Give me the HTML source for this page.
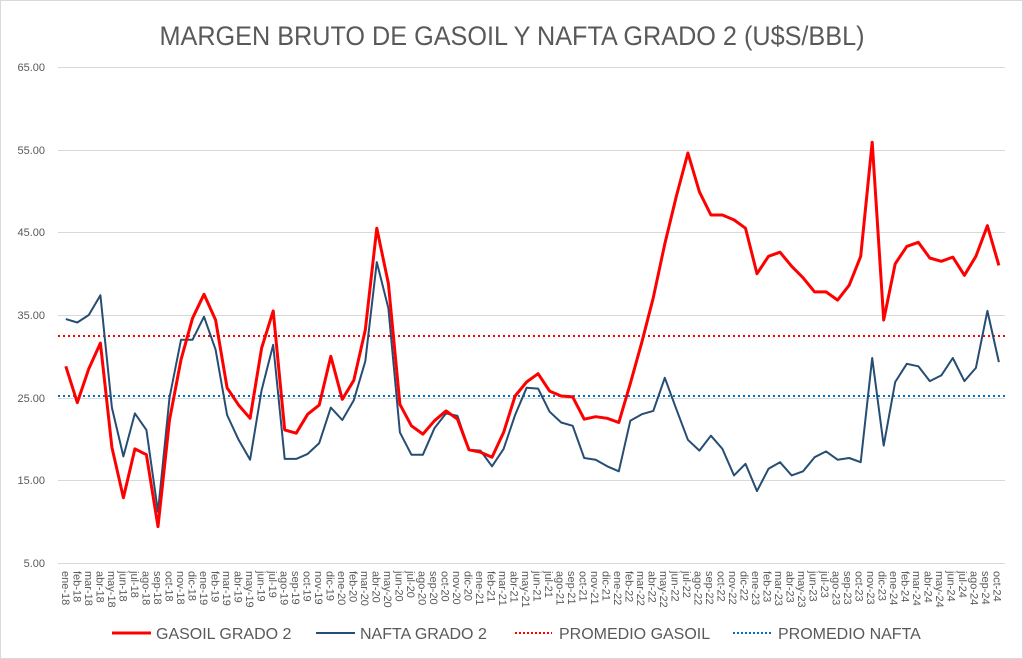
<!DOCTYPE html>
<html><head><meta charset="utf-8"><style>
html,body{margin:0;padding:0;background:#fff}
svg{display:block;font-family:"Liberation Sans",sans-serif}
</style></head><body>
<svg id="c" width="1023" height="659" viewBox="0 0 1023 659" xmlns="http://www.w3.org/2000/svg">
<rect x="0.5" y="0.5" width="1022" height="658" fill="#fff" stroke="#d9d9d9"/>
<text x="512" y="45" text-anchor="middle" font-size="27" fill="#595959" textLength="705" lengthAdjust="spacingAndGlyphs">MARGEN BRUTO DE GASOIL Y NAFTA GRADO 2 (U$S/BBL)</text>
<g stroke="#d9d9d9" stroke-width="1">
<line x1="58" x2="1005" y1="67.5" y2="67.5"/><line x1="58" x2="1005" y1="150.5" y2="150.5"/>
<line x1="58" x2="1005" y1="232.5" y2="232.5"/><line x1="58" x2="1005" y1="315.5" y2="315.5"/>
<line x1="58" x2="1005" y1="398.5" y2="398.5"/><line x1="58" x2="1005" y1="480.5" y2="480.5"/>
<line x1="58" x2="1005" y1="563.5" y2="563.5"/>
</g>
<g font-size="11" fill="#595959" text-anchor="end">
<text x="45" y="71">65.00</text><text x="45" y="154">55.00</text><text x="45" y="236">45.00</text>
<text x="45" y="319">35.00</text><text x="45" y="402">25.00</text><text x="45" y="484">15.00</text><text x="45" y="567">5.00</text>
</g>
<line x1="58" x2="1005" y1="336" y2="336" stroke="#ff0000" stroke-width="2" stroke-dasharray="2,3"/>
<line x1="58" x2="1005" y1="396" y2="396" stroke="#0070c0" stroke-width="2" stroke-dasharray="2,3"/>
<polyline id="naf" fill="none" stroke="#264d73" stroke-width="2" stroke-linejoin="round"/>
<polyline id="gas" fill="none" stroke="#ff0000" stroke-width="3" stroke-linejoin="round"/>
<g id="xl" font-size="11" fill="#595959">
<text transform="translate(62,571) rotate(90)">ene-18</text>
<text transform="translate(73.5,571) rotate(90)">feb-18</text>
<text transform="translate(85,571) rotate(90)">mar-18</text>
<text transform="translate(96.5,571) rotate(90)">abr-18</text>
<text transform="translate(108,571) rotate(90)">may-18</text>
<text transform="translate(119.5,571) rotate(90)">jun-18</text>
<text transform="translate(131,571) rotate(90)">jul-18</text>
<text transform="translate(142.5,571) rotate(90)">ago-18</text>
<text transform="translate(154,571) rotate(90)">sep-18</text>
<text transform="translate(165.5,571) rotate(90)">oct-18</text>
<text transform="translate(177,571) rotate(90)">nov-18</text>
<text transform="translate(188.5,571) rotate(90)">dic-18</text>
<text transform="translate(200,571) rotate(90)">ene-19</text>
<text transform="translate(211.5,571) rotate(90)">feb-19</text>
<text transform="translate(223,571) rotate(90)">mar-19</text>
<text transform="translate(234.5,571) rotate(90)">abr-19</text>
<text transform="translate(246,571) rotate(90)">may-19</text>
<text transform="translate(257.5,571) rotate(90)">jun-19</text>
<text transform="translate(269,571) rotate(90)">jul-19</text>
<text transform="translate(280.5,571) rotate(90)">ago-19</text>
<text transform="translate(292,571) rotate(90)">sep-19</text>
<text transform="translate(303.5,571) rotate(90)">oct-19</text>
<text transform="translate(315,571) rotate(90)">nov-19</text>
<text transform="translate(326.5,571) rotate(90)">dic-19</text>
<text transform="translate(338,571) rotate(90)">ene-20</text>
<text transform="translate(349.5,571) rotate(90)">feb-20</text>
<text transform="translate(361,571) rotate(90)">mar-20</text>
<text transform="translate(372.5,571) rotate(90)">abr-20</text>
<text transform="translate(384,571) rotate(90)">may-20</text>
<text transform="translate(395.5,571) rotate(90)">jun-20</text>
<text transform="translate(407,571) rotate(90)">jul-20</text>
<text transform="translate(418.5,571) rotate(90)">ago-20</text>
<text transform="translate(430,571) rotate(90)">sep-20</text>
<text transform="translate(441.5,571) rotate(90)">oct-20</text>
<text transform="translate(453,571) rotate(90)">nov-20</text>
<text transform="translate(464.5,571) rotate(90)">dic-20</text>
<text transform="translate(476,571) rotate(90)">ene-21</text>
<text transform="translate(487.5,571) rotate(90)">feb-21</text>
<text transform="translate(499,571) rotate(90)">mar-21</text>
<text transform="translate(510.5,571) rotate(90)">abr-21</text>
<text transform="translate(522,571) rotate(90)">may-21</text>
<text transform="translate(533.5,571) rotate(90)">jun-21</text>
<text transform="translate(545,571) rotate(90)">jul-21</text>
<text transform="translate(556.5,571) rotate(90)">ago-21</text>
<text transform="translate(568,571) rotate(90)">sep-21</text>
<text transform="translate(579.5,571) rotate(90)">oct-21</text>
<text transform="translate(591,571) rotate(90)">nov-21</text>
<text transform="translate(602.5,571) rotate(90)">dic-21</text>
<text transform="translate(614,571) rotate(90)">ene-22</text>
<text transform="translate(625.5,571) rotate(90)">feb-22</text>
<text transform="translate(637,571) rotate(90)">mar-22</text>
<text transform="translate(648.5,571) rotate(90)">abr-22</text>
<text transform="translate(660,571) rotate(90)">may-22</text>
<text transform="translate(671.5,571) rotate(90)">jun-22</text>
<text transform="translate(683,571) rotate(90)">jul-22</text>
<text transform="translate(694.5,571) rotate(90)">ago-22</text>
<text transform="translate(706,571) rotate(90)">sep-22</text>
<text transform="translate(717.5,571) rotate(90)">oct-22</text>
<text transform="translate(729,571) rotate(90)">nov-22</text>
<text transform="translate(740.5,571) rotate(90)">dic-22</text>
<text transform="translate(752,571) rotate(90)">ene-23</text>
<text transform="translate(763.5,571) rotate(90)">feb-23</text>
<text transform="translate(775,571) rotate(90)">mar-23</text>
<text transform="translate(786.5,571) rotate(90)">abr-23</text>
<text transform="translate(798,571) rotate(90)">may-23</text>
<text transform="translate(809.5,571) rotate(90)">jun-23</text>
<text transform="translate(821,571) rotate(90)">jul-23</text>
<text transform="translate(832.5,571) rotate(90)">ago-23</text>
<text transform="translate(844,571) rotate(90)">sep-23</text>
<text transform="translate(855.5,571) rotate(90)">oct-23</text>
<text transform="translate(867,571) rotate(90)">nov-23</text>
<text transform="translate(878.5,571) rotate(90)">dic-23</text>
<text transform="translate(890,571) rotate(90)">ene-24</text>
<text transform="translate(901.5,571) rotate(90)">feb-24</text>
<text transform="translate(913,571) rotate(90)">mar-24</text>
<text transform="translate(924.5,571) rotate(90)">abr-24</text>
<text transform="translate(936,571) rotate(90)">may-24</text>
<text transform="translate(947.5,571) rotate(90)">jun-24</text>
<text transform="translate(959,571) rotate(90)">jul-24</text>
<text transform="translate(970.5,571) rotate(90)">ago-24</text>
<text transform="translate(982,571) rotate(90)">sep-24</text>
<text transform="translate(993.5,571) rotate(90)">oct-24</text>
</g>
<line x1="112" x2="151" y1="633" y2="633" stroke="#ff0000" stroke-width="3"/>
<text x="156" y="639" font-size="16" fill="#595959">GASOIL GRADO 2</text>
<line x1="316" x2="355" y1="633" y2="633" stroke="#264d73" stroke-width="2"/>
<text x="360" y="639" font-size="16" fill="#595959">NAFTA GRADO 2</text>
<line x1="515" x2="552" y1="633" y2="633" stroke="#ff0000" stroke-width="2" stroke-dasharray="2,2"/>
<text x="559" y="639" font-size="16" fill="#595959">PROMEDIO GASOIL</text>
<line x1="733" x2="771" y1="633" y2="633" stroke="#0070c0" stroke-width="2" stroke-dasharray="2,2"/>
<text x="778" y="639" font-size="16" fill="#595959">PROMEDIO NAFTA</text>
</svg>
<script>
var g=[28.8,24.4,28.5,31.6,19,12.9,18.8,18.1,9.4,22.3,29.6,34.6,37.5,34.4,26.2,24.1,22.5,31,35.5,21.1,20.7,23,24.1,30,24.8,27.1,33.2,45.5,38.8,24.2,21.6,20.6,22.2,23.4,22.4,18.7,18.4,17.8,20.8,25.2,26.9,27.9,25.8,25.2,25.1,22.4,22.7,22.5,22,26.7,31.7,37.1,43.6,49.4,54.6,49.9,47.1,47.1,46.5,45.5,40,42.1,42.6,40.9,39.5,37.8,37.8,36.8,38.6,42.1,55.9,34.4,41.2,43.3,43.8,41.9,41.5,42,39.8,42.1,45.8,41];
var n=[34.5,34.1,35,37.4,23.8,17.9,23.1,21.1,11.2,25,32,32,34.8,30.8,22.9,19.9,17.5,25.9,31.4,17.6,17.6,18.2,19.5,23.8,22.3,24.7,29.4,41.4,35.8,20.8,18.1,18.1,21.3,23.1,22.8,18.7,18.6,16.7,18.8,22.9,26.2,26.1,23.3,22,21.6,17.7,17.5,16.7,16.1,22.2,23,23.4,27.4,23.6,19.9,18.6,20.4,18.8,15.6,17,13.7,16.4,17.2,15.6,16.1,17.8,18.5,17.5,17.7,17.2,29.8,19.2,26.9,29.1,28.8,27,27.7,29.8,27,28.6,35.5,29.3];
function pts(a){return a.map(function(v,i){return (65.8+11.52*i).toFixed(1)+","+(67+(65-v)*8.267).toFixed(1)}).join(" ")}
document.getElementById("gas").setAttribute("points",pts(g));
document.getElementById("naf").setAttribute("points",pts(n));
</script>
</body></html>
